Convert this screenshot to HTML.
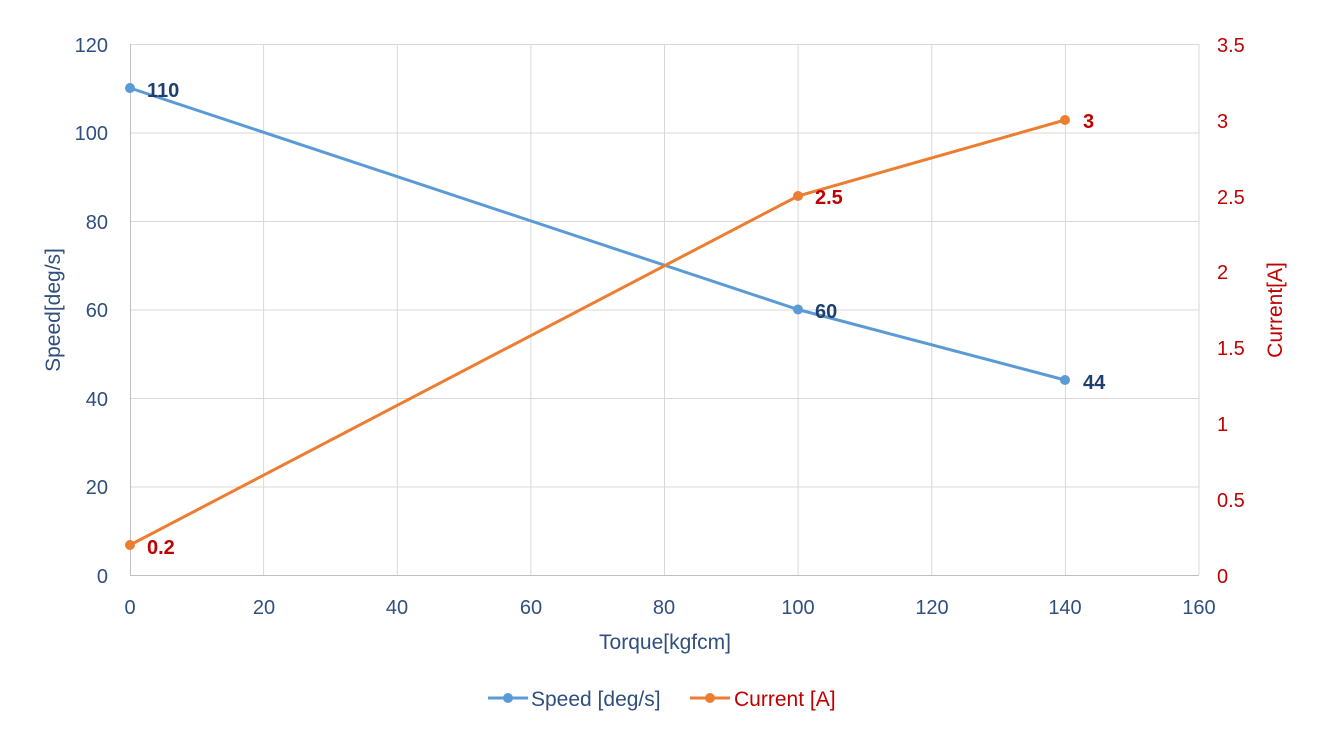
<!DOCTYPE html>
<html><head><meta charset="utf-8"><style>
html,body{margin:0;padding:0;background:#fff;}
svg{display:block;font-family:"Liberation Sans",sans-serif;}
</style></head><body>
<svg width="1320" height="736" viewBox="0 0 1320 736">
<g stroke="#d9d9d9" stroke-width="1">
<line x1="130" y1="44.5" x2="1199" y2="44.5"/>
<line x1="130" y1="133" x2="1199" y2="133"/>
<line x1="130" y1="221.5" x2="1199" y2="221.5"/>
<line x1="130" y1="310" x2="1199" y2="310"/>
<line x1="130" y1="398.5" x2="1199" y2="398.5"/>
<line x1="130" y1="487" x2="1199" y2="487"/>
<line x1="263.6" y1="44" x2="263.6" y2="575"/>
<line x1="397.3" y1="44" x2="397.3" y2="575"/>
<line x1="530.9" y1="44" x2="530.9" y2="575"/>
<line x1="664.5" y1="44" x2="664.5" y2="575"/>
<line x1="798.1" y1="44" x2="798.1" y2="575"/>
<line x1="931.8" y1="44" x2="931.8" y2="575"/>
<line x1="1065.4" y1="44" x2="1065.4" y2="575"/>
<line x1="1199" y1="44" x2="1199" y2="575"/>
</g>
<g stroke="#bfbfbf" stroke-width="1">
<line x1="130" y1="575.5" x2="1199" y2="575.5"/>
<line x1="130.5" y1="44" x2="130.5" y2="575"/>
</g>
<g fill="#2F4F7F" font-size="20" text-anchor="end">
<text x="108" y="52">120</text><text x="108" y="140">100</text><text x="108" y="229">80</text>
<text x="108" y="317">60</text><text x="108" y="406">40</text><text x="108" y="494">20</text><text x="108" y="583">0</text>
</g>
<g fill="#C00000" font-size="20" text-anchor="start">
<text x="1217" y="52">3.5</text><text x="1217" y="128">3</text><text x="1217" y="204">2.5</text>
<text x="1217" y="279">2</text><text x="1217" y="355">1.5</text><text x="1217" y="431">1</text>
<text x="1217" y="507">0.5</text><text x="1217" y="583">0</text>
</g>
<g fill="#2F4F7F" font-size="20" text-anchor="middle">
<text x="130" y="614">0</text><text x="264" y="614">20</text><text x="397" y="614">40</text>
<text x="531" y="614">60</text><text x="664" y="614">80</text><text x="798" y="614">100</text>
<text x="932" y="614">120</text><text x="1065" y="614">140</text><text x="1199" y="614">160</text>
</g>
<text x="665" y="649" fill="#2F4F7F" font-size="21" text-anchor="middle">Torque[kgfcm]</text>
<text transform="translate(60,310) rotate(-90)" fill="#2F4F7F" font-size="21" text-anchor="middle">Speed[deg/s]</text>
<text transform="translate(1282,310) rotate(-90)" fill="#C00000" font-size="21" text-anchor="middle">Current[A]</text>
<polyline points="130,88 798,309.5 1065,380" fill="none" stroke="#5B9BD5" stroke-width="3"/>
<polyline points="130,545 798,196 1065,120" fill="none" stroke="#ED7D31" stroke-width="3"/>
<g fill="#5B9BD5"><circle cx="130" cy="88" r="5"/><circle cx="798" cy="309.5" r="5"/><circle cx="1065" cy="380" r="5"/></g>
<g fill="#ED7D31"><circle cx="130" cy="545" r="5"/><circle cx="798" cy="196" r="5"/><circle cx="1065" cy="120" r="5"/></g>
<g font-size="20" font-weight="bold" fill="#1F3F6F">
<text x="147" y="97">110</text><text x="815" y="318">60</text><text x="1083" y="389">44</text>
</g>
<g font-size="20" font-weight="bold" fill="#C00000">
<text x="147" y="554">0.2</text><text x="815" y="204">2.5</text><text x="1083" y="128">3</text>
</g>
<line x1="488" y1="698" x2="528" y2="698" stroke="#5B9BD5" stroke-width="3"/>
<circle cx="508" cy="698" r="5" fill="#5B9BD5"/>
<text x="531" y="706" font-size="21" fill="#2F4F7F">Speed [deg/s]</text>
<line x1="690" y1="698" x2="730" y2="698" stroke="#ED7D31" stroke-width="3"/>
<circle cx="710" cy="698" r="5" fill="#ED7D31"/>
<text x="734" y="706" font-size="21" fill="#C00000">Current [A]</text>
</svg>
</body></html>
